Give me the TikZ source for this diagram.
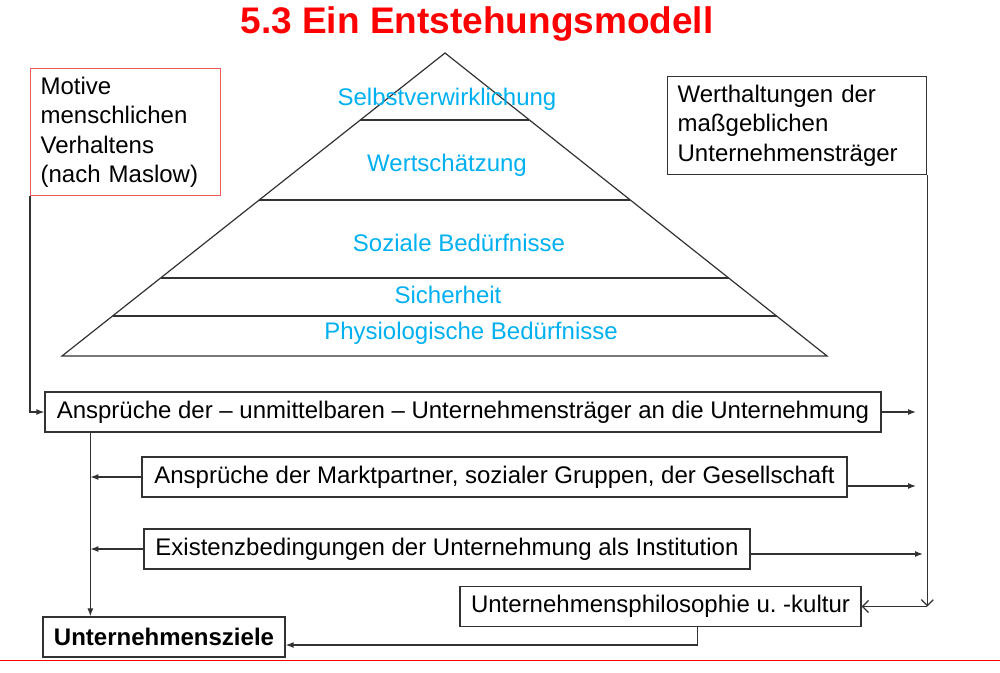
\documentclass[tikz,border=0pt]{standalone}
\usepackage{fontspec}
\setmainfont{Liberation Sans}
\usetikzlibrary{arrows.meta,positioning,calc}
\definecolor{titlered}{RGB}{255,0,0}
\definecolor{pyrcyan}{RGB}{0,176,240}
\definecolor{boxred}{RGB}{240,90,90}
\definecolor{linegray}{RGB}{50,50,50}
\frenchspacing

\begin{document}
\begin{tikzpicture}[x=1pt,y=-1pt,
    txt/.style={font=\fontsize{24}{29.5}\selectfont},
    box/.style={txt,draw=linegray,line width=1.3pt,inner xsep=10pt,inner ysep=0pt,minimum height=40pt},
    lvl/.style={txt,text=pyrcyan},
    arr/.style={-{Latex[length=8pt,width=6pt]},draw=linegray,line width=1.2pt},
    barb/.style={-{Straight Barb[length=6pt,width=12pt]},draw=linegray,line width=1.2pt}]
  \useasboundingbox (0,0) rectangle (1000,672);
  % Title
  \node[font=\fontsize{37}{44}\bfseries,text=titlered] (title) at (477,24) {5.3 Ein Entstehungsmodell};
  \draw[titlered,line width=1pt] (0,660) -- (1000,660);
  % Pyramid
  \coordinate (apex) at (445,53);
  \coordinate (bl) at (62,356);
  \coordinate (br) at (827,356);
  \draw[linegray,line width=1.2pt] (bl) -- (apex) -- (br) -- cycle;
  \foreach \ly/\lw in {120/1.2,200/1.7,278/1.7,316/1.2}
    \draw[linegray,line width=\lw pt] ($(apex)!{(\ly-53)/303}!(bl)$) -- ($(apex)!{(\ly-53)/303}!(br)$);
  \node[lvl] (selbst) at (447,99)  {Selbstverwirklichung};
  \node[lvl] (wertsch) at (447,165) {Wertschätzung};
  \node[lvl] (sozial) at (459,243) {Soziale Bedürfnisse};
  \node[lvl] (sicher) at (448,295) {Sicherheit};
  \node[lvl] (physio) at (471,333) {Physiologische Bedürfnisse};
  % Side boxes
  \node[box,draw=boxred,anchor=north west,align=left,text width=170pt,minimum height=127pt] (motive) at (30,68)
    {Motive\\menschlichen\\Verhaltens\\(nach Maslow)};
  \node[box,anchor=north west,align=left,text width=239pt,minimum height=98pt] (wert) at (667,76)
    {Werthaltungen der\\maßgeblichen\\Unternehmensträger};
  % Row boxes
  \node[box,minimum width=836pt] (anspr) at (463,412) {Ansprüche der – unmittelbaren – Unternehmensträger an die Unternehmung};
  \node[box,minimum width=705pt] (markt) at (494.5,477) {Ansprüche der Marktpartner, sozialer Gruppen, der Gesellschaft};
  \node[box,minimum width=606pt] (exist) at (447,549) {Existenzbedingungen der Unternehmung als Institution};
  \node[box,minimum width=401pt] (phil) at (660.5,606.5) {Unternehmensphilosophie u. -kultur};
  \node[box,minimum width=242pt,font=\fontsize{24}{29.5}\bfseries] (ziele) at (164,637) {Unternehmensziele};
  % Connectors
  \coordinate (stemtop) at ($(anspr.south west)+(46,0)$);
  \coordinate (stembot) at (stemtop |- ziele.north);
  \coordinate (rb) at (wert.south east |- phil.east);
  \coordinate (out1) at (916,412);
  \coordinate (out2) at (916,486);
  \coordinate (out3) at (923,554);
  \draw[arr] (motive.south west) |- (anspr.west);
  \draw[arr] (anspr.east) -- (out1);
  \draw[arr] ($(markt.east)+(0,9)$) -- (out2);
  \draw[arr] ($(exist.east)+(0,5)$) -- (out3);
  \draw[arr] (stemtop) -- (stembot);
  \draw[arr] (markt.west) -- (markt.west -| stemtop);
  \draw[arr] (exist.west) -- (exist.west -| stemtop);
  \draw[barb] (wert.south east) -- (rb);
  \draw[barb] (rb) -- (phil.east);
  \draw[arr] ($(phil.south west)+(238,0)$) |- ($(ziele.east)+(0,8)$);
\end{tikzpicture}
\end{document}
